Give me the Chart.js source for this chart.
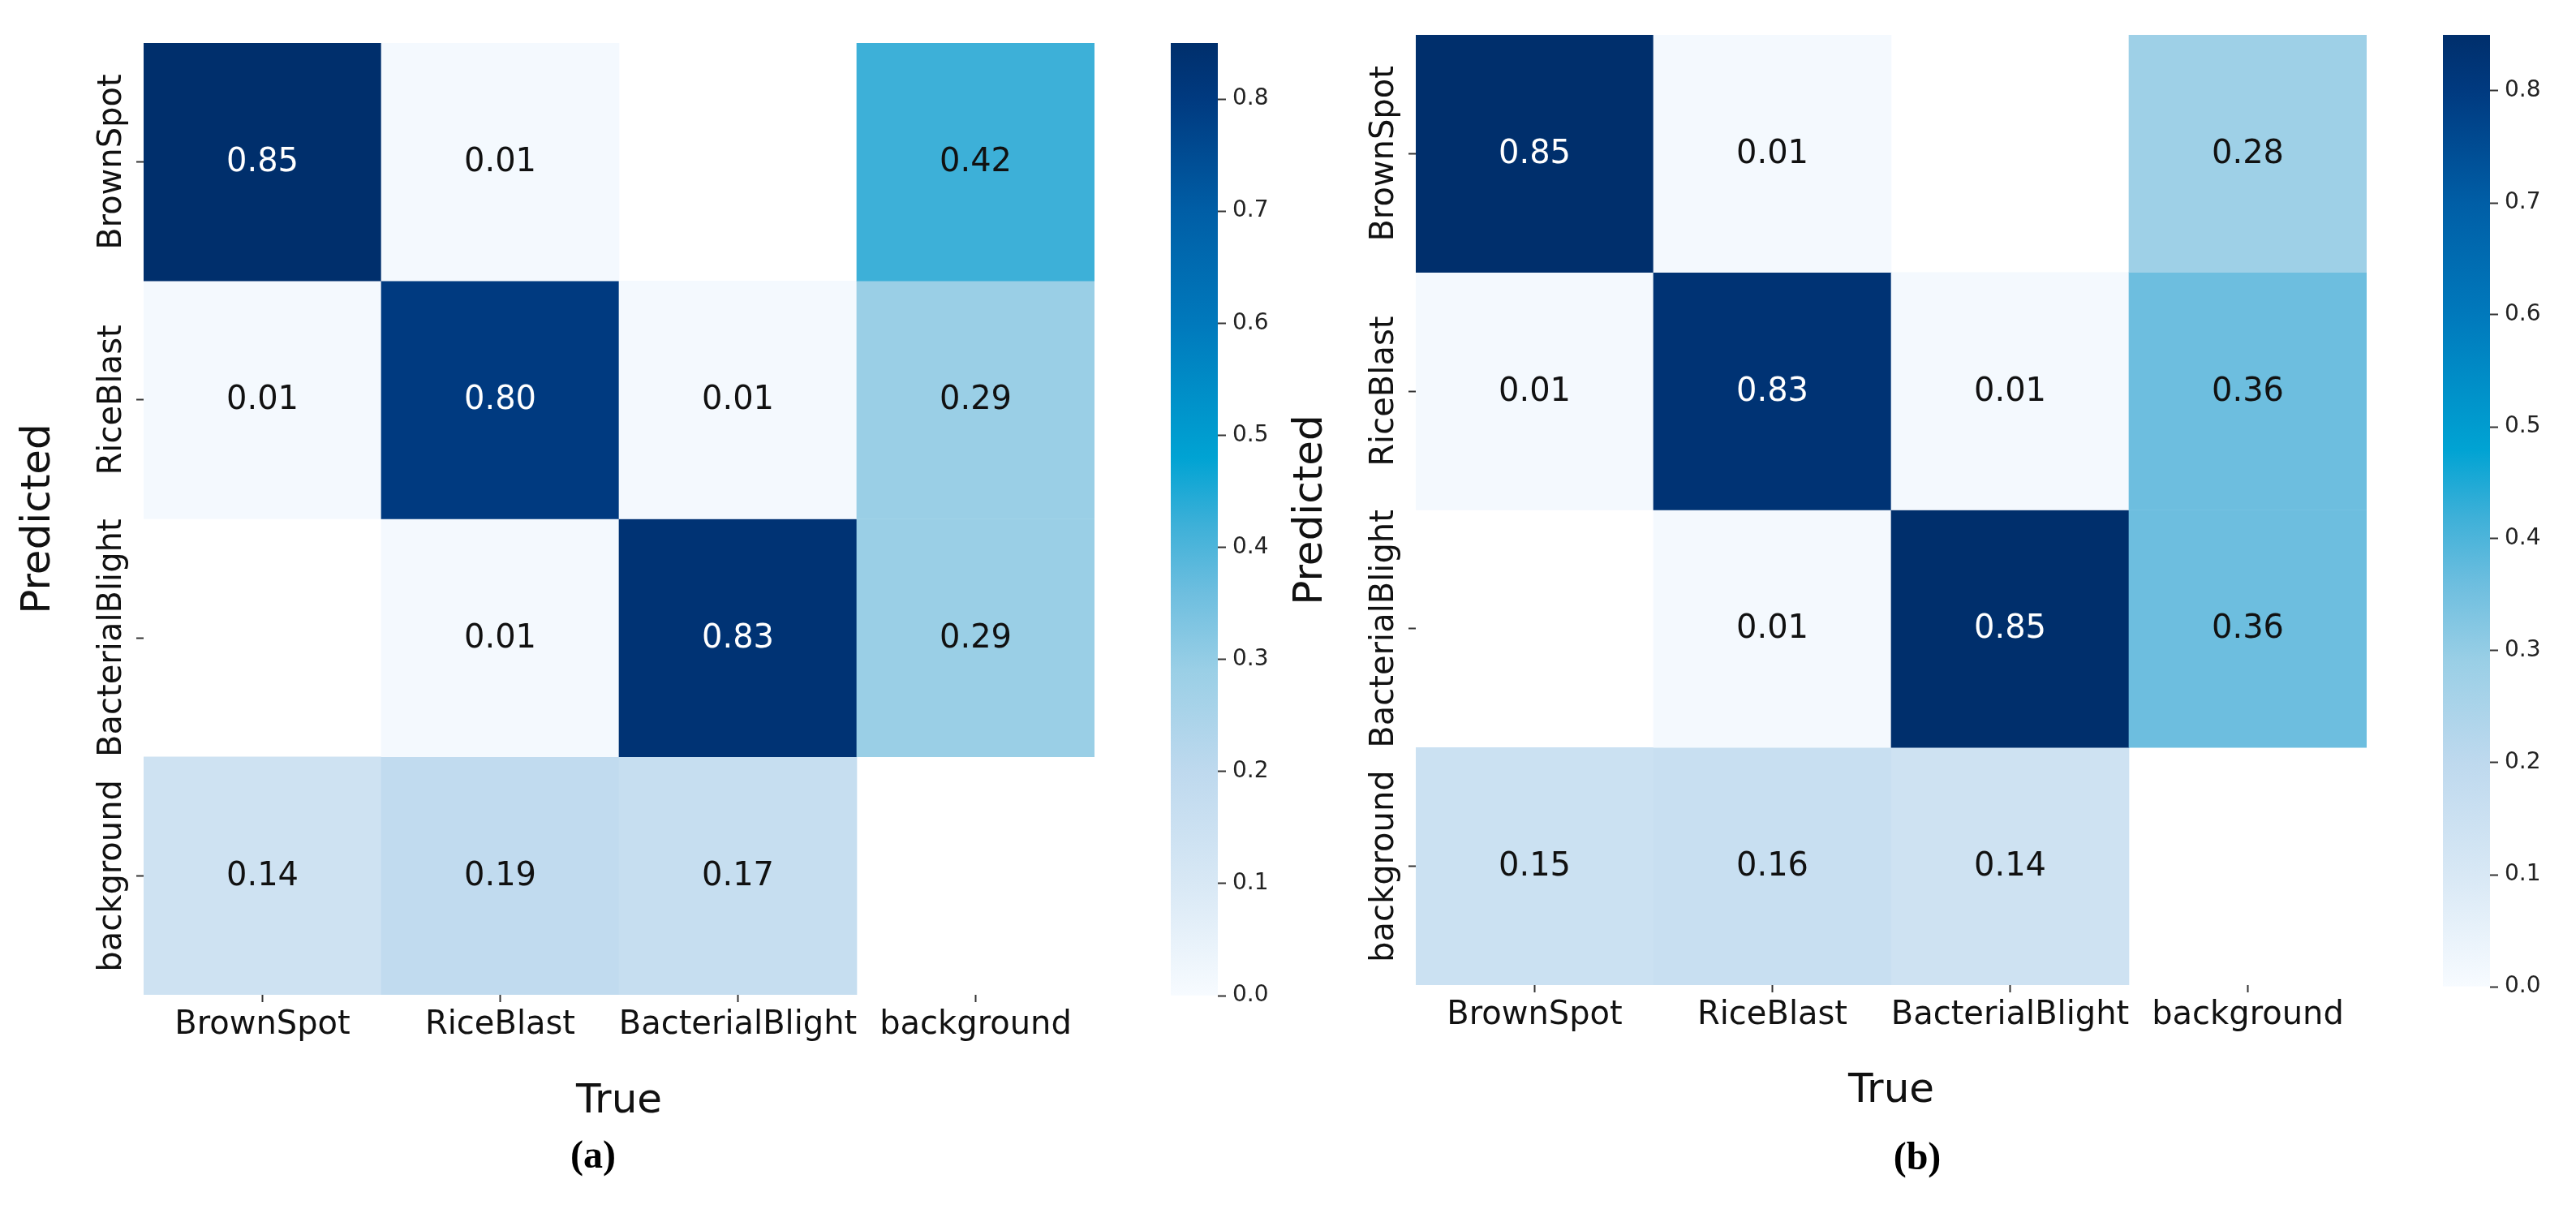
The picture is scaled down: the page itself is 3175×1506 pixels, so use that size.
<!DOCTYPE html>
<html>
<head>
<meta charset="UTF-8" />
<title>Confusion matrices (a) and (b)</title>
<script src="https://cdn.jsdelivr.net/npm/chart.js@4.4.9/dist/chart.umd.min.js"></script>
<style>
  body { margin: 0; background: #fff; }
  #page { position: relative; width: 3175px; height: 1506px; overflow: hidden; background: #fff; }
  .box { position: absolute; }
  .caption {
    position: absolute;
    font-family: 'Liberation Serif', serif;
    font-weight: bold;
    font-size: 48px;
    color: #000;
    transform: translate(-50%, -50%);
  }
</style>
</head>
<body>
<div id="page">
  <div class="box" style="left:0; top:0; width:1400px; height:1400px"><canvas id="heatA"></canvas></div>
  <div class="box" style="left:1443px; top:0; width:125px; height:1300px"><canvas id="barA"></canvas></div>
  <div class="box" style="left:1568px; top:0; width:1400px; height:1400px"><canvas id="heatB"></canvas></div>
  <div class="box" style="left:3011px; top:0; width:140px; height:1300px"><canvas id="barB"></canvas></div>
  <div class="caption" style="left:731px; top:1422px">(a)</div>
  <div class="caption" style="left:2363px; top:1424px">(b)</div>
</div>
<script>
    // Categories (same on both axes)
    const columns = ['BrownSpot', 'RiceBlast', 'BacterialBlight', 'background'];
    const rows = ['BrownSpot', 'RiceBlast', 'BacterialBlight', 'background'];

    // Panel (a): one array per predicted row, null = empty cell
    const rowBrownSpotA       = [0.85, 0.01, null, 0.42];
    const rowRiceBlastA       = [0.01, 0.80, 0.01, 0.29];
    const rowBacterialBlightA = [null, 0.01, 0.83, 0.29];
    const rowBackgroundA      = [0.14, 0.19, 0.17, null];

    // Panel (b)
    const rowBrownSpotB       = [0.85, 0.01, null, 0.28];
    const rowRiceBlastB       = [0.01, 0.83, 0.01, 0.36];
    const rowBacterialBlightB = [null, 0.01, 0.85, 0.36];
    const rowBackgroundB      = [0.15, 0.16, 0.14, null];

    // Colorbar
    const colorMax = 0.85;
    const colorbarTicks = [0, 0.1, 0.2, 0.3, 0.4, 0.5, 0.6, 0.7, 0.8];

    // every cell is one row tall
    const cellSpan = 1;

    // colour map picked off the reference colorbar (value -> colour)
    const cmapStops = [
        [0.00, '#f7fbff'],
        [0.10, '#d8e8f5'],
        [0.20, '#bed9ee'],
        [0.29, '#9acfe6'],
        [0.36, '#6dbedf'],
        [0.42, '#3db0d8'],
        [0.48, '#00a3d3'],
        [0.60, '#0079bc'],
        [0.70, '#005ea6'],
        [0.80, '#003a80'],
        [0.85, '#002f6c']
    ];

    Chart.defaults.font.family = "'DejaVu Sans', sans-serif";
    Chart.defaults.color = '#111';

    function hexToRgb(h) {
        return [parseInt(h.slice(1, 3), 16), parseInt(h.slice(3, 5), 16), parseInt(h.slice(5, 7), 16)];
    }

    function cmap(v) {
        if (v <= cmapStops[0][0]) return cmapStops[0][1];
        for (let i = 1; i < cmapStops.length; i++) {
            if (v <= cmapStops[i][0]) {
                const [v0, c0] = cmapStops[i - 1];
                const [v1, c1] = cmapStops[i];
                const t = (v - v0) / (v1 - v0);
                const a = hexToRgb(c0), b = hexToRgb(c1);
                const m = a.map((x, k) => Math.round(x + (b[k] - x) * t));
                return `rgb(${m[0]},${m[1]},${m[2]})`;
            }
        }
        return cmapStops[cmapStops.length - 1][1];
    }

    // writes the value in the middle of each cell
    const cellLabels = {
        id: 'cellLabels',
        afterDatasetsDraw(chart) {
            const ctx = chart.ctx;
            ctx.save();
            ctx.font = "40px 'DejaVu Sans'";
            ctx.textAlign = 'center';
            ctx.textBaseline = 'middle';
            chart.data.datasets.forEach((ds, r) => {
                const meta = chart.getDatasetMeta(r);
                meta.data.forEach((bar, j) => {
                    const v = ds.cellValues[j];
                    if (v == null) return;
                    const p = bar.getProps(['x', 'y', 'base'], true);
                    ctx.fillStyle = v >= 0.5 ? '#ffffff' : '#111111';
                    ctx.fillText(v.toFixed(2), p.x, (p.y + p.base) / 2 + 1);
                });
            });
            ctx.restore();
        }
    };

    // rotated row names on the left (matplotlib style)
    const rowLabels = {
        id: 'rowLabels',
        afterDraw(chart, args, opts) {
            const ctx = chart.ctx;
            const yScale = chart.scales.y;
            const x = chart.chartArea.left - opts.offset;
            ctx.save();
            ctx.font = "40px 'DejaVu Sans'";
            ctx.fillStyle = '#111';
            ctx.textAlign = 'center';
            ctx.textBaseline = 'middle';
            opts.labels.forEach((name, r) => {
                const py = yScale.getPixelForValue(r + 0.5);
                ctx.save();
                ctx.translate(x, py);
                ctx.rotate(-Math.PI / 2);
                ctx.fillText(name, 0, 0);
                ctx.restore();
            });
            ctx.restore();
        }
    };

    function makeHeatmap(id, matrix, geo) {
        return new Chart(document.getElementById(id), {
            type: 'bar',
            data: {
                labels: columns,
                datasets: matrix.map((vals, r) => ({
                    label: rows[r],
                    data: vals.map(() => cellSpan),
                    cellValues: vals,
                    backgroundColor: vals.map(v => v == null ? 'rgba(255,255,255,0)' : cmap(v)),
                    borderWidth: 0,
                    barPercentage: 1,
                    categoryPercentage: 1,
                    stack: 'cells'
                }))
            },
            options: {
                responsive: true,
                maintainAspectRatio: false,
                animation: false,
                events: [],
                layout: { padding: geo.padding },
                plugins: {
                    legend: { display: false },
                    tooltip: { enabled: false },
                    rowLabels: { labels: rows, offset: 38 }
                },
                scales: {
                    x: {
                        stacked: true,
                        offset: true,
                        border: { display: false },
                        grid: {
                            offset: false,
                            drawOnChartArea: false,
                            drawTicks: true,
                            tickLength: 9,
                            tickColor: '#333',
                            tickWidth: 2
                        },
                        ticks: {
                            autoSkip: false,
                            maxRotation: 0,
                            minRotation: 0,
                            padding: 5,
                            color: '#111',
                            font: { size: 40 }
                        },
                        title: {
                            display: true,
                            text: 'True',
                            color: '#111',
                            font: { size: 50 },
                            padding: { top: 0, bottom: 0 }
                        },
                        afterFit: s => { s.height = geo.xAxisHeight; }
                    },
                    y: {
                        stacked: true,
                        reverse: true,
                        min: 0,
                        max: rows.length,
                        border: { display: false },
                        grid: {
                            drawOnChartArea: false,
                            drawTicks: true,
                            tickLength: 9,
                            tickColor: '#333',
                            tickWidth: 2
                        },
                        ticks: { display: false },
                        afterBuildTicks: s => { s.ticks = rows.map((_, i) => ({ value: i + 0.5 })); },
                        title: {
                            display: true,
                            text: 'Predicted',
                            color: '#111',
                            font: { size: 50 },
                            padding: { top: 18, bottom: 0 }
                        },
                        afterFit: s => { s.width = geo.yAxisWidth; }
                    }
                }
            },
            plugins: [cellLabels, rowLabels]
        });
    }

    function makeColorbar(id, geo) {
        return new Chart(document.getElementById(id), {
            type: 'bar',
            data: {
                labels: [''],
                datasets: [{
                    data: [colorMax],
                    borderWidth: 0,
                    barPercentage: 1,
                    categoryPercentage: 1,
                    backgroundColor: (c) => {
                        const chart = c.chart;
                        if (!chart.chartArea) return '#f7fbff';
                        const ys = chart.scales.y;
                        const g = chart.ctx.createLinearGradient(0, ys.getPixelForValue(0), 0, ys.getPixelForValue(colorMax));
                        cmapStops.forEach(([v, col]) => g.addColorStop(Math.min(v / colorMax, 1), col));
                        return g;
                    }
                }]
            },
            options: {
                responsive: true,
                maintainAspectRatio: false,
                animation: false,
                events: [],
                layout: { padding: geo.padding },
                plugins: { legend: { display: false }, tooltip: { enabled: false } },
                scales: {
                    x: { display: false },
                    y: {
                        position: 'right',
                        min: 0,
                        max: colorMax,
                        border: { display: false },
                        grid: {
                            drawOnChartArea: false,
                            drawTicks: true,
                            tickLength: 10,
                            tickColor: '#333',
                            tickWidth: 2
                        },
                        afterBuildTicks: s => { s.ticks = colorbarTicks.map(v => ({ value: v })); },
                        ticks: {
                            padding: 8,
                            color: '#222',
                            font: { size: 28 },
                            callback: v => Number(v).toFixed(1)
                        },
                        afterFit: s => { s.width = geo.yAxisWidth; }
                    }
                }
            }
        });
    }

    makeHeatmap('heatA', [rowBrownSpotA, rowRiceBlastA, rowBacterialBlightA, rowBackgroundA], {
        padding: { top: 53, bottom: 12, left: 0, right: 51 },
        yAxisWidth: 177,
        xAxisHeight: 162
    });
    makeHeatmap('heatB', [rowBrownSpotB, rowRiceBlastB, rowBacterialBlightB, rowBackgroundB], {
        padding: { top: 43, bottom: 25, left: 0, right: 51 },
        yAxisWidth: 177,
        xAxisHeight: 161
    });
    makeColorbar('barA', { padding: { top: 53, bottom: 73, left: 0, right: 0 }, yAxisWidth: 67 });
    makeColorbar('barB', { padding: { top: 43, bottom: 84, left: 0, right: 0 }, yAxisWidth: 82 });
</script>
</body>
</html>
